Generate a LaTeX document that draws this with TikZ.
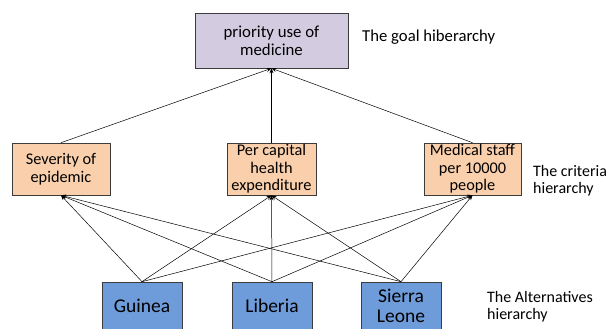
\documentclass[tikz,border=0pt]{standalone}
\usepackage{fontspec}
\setmainfont{Carlito}
\definecolor{mautim}{HTML}{D3CCE1}
\definecolor{maucam}{HTML}{FAD0AC}
\definecolor{mauxanh}{HTML}{6E9BD9}
\definecolor{mauvien}{HTML}{3C3C3C}
\usetikzlibrary{arrows.meta}

\begin{document}
\begin{tikzpicture}[x=1pt,y=-1pt,
	hop/.style={draw=mauvien,line width=0.6pt,align=center,inner sep=1pt,font=\fontsize{16.3}{17.5}\selectfont},
	muctieu/.style={hop,fill=mautim,minimum width=153pt,minimum height=55pt,font=\fontsize{16.8}{18}\selectfont},
	tieuchi/.style={hop,fill=maucam,minimum height=52pt},
	phuongan/.style={hop,fill=mauxanh,minimum width=80pt,minimum height=48pt,font=\fontsize{19.5}{20.5}\selectfont},
	nhan/.style={anchor=west,align=left,inner sep=0pt,font=\fontsize{16}{17}\selectfont},
	noi/.style={-{Stealth[length=5pt,width=4pt]},line width=0.5pt}]
	\useasboundingbox (0,0) rectangle (608,329);
	% the three levels
	\path (271.5,40.5) node[muctieu] (goal) {priority use of\\medicine};
	\path (61,169) node[tieuchi,minimum width=98pt] (c1) {Severity of\\epidemic}
	(271.5,169) node[tieuchi,minimum width=89pt] (c2) {Per capital\\health\\expenditure}
	(472.5,169) node[tieuchi,minimum width=97pt] (c3) {Medical staff\\per 10000\\people};
	\path (142,306) node[phuongan] (a1) {Guinea}
	(272,306) node[phuongan] (a2) {Liberia}
	(401,306) node[phuongan] (a3) {Sierra\\Leone};
	% labels on the right
	\path (362,37) node[nhan,font=\fontsize{16.7}{18}\selectfont] (lgoal) {The goal hiberarchy}
	(533,181) node[nhan] (lcrit) {The criteria\\hierarchy}
	(487,307) node[nhan] (lalt) {The Alternatives\\hierarchy};
	% connectors
	\foreach \c in {c1,c2,c3}
		\draw[noi] (\c.north) -- (goal.south);
	\foreach \a in {a1,a2,a3}
		\foreach \c in {c1,c2,c3}
			\draw[noi] (\a.north) -- (\c.south);
\end{tikzpicture}
\end{document}
